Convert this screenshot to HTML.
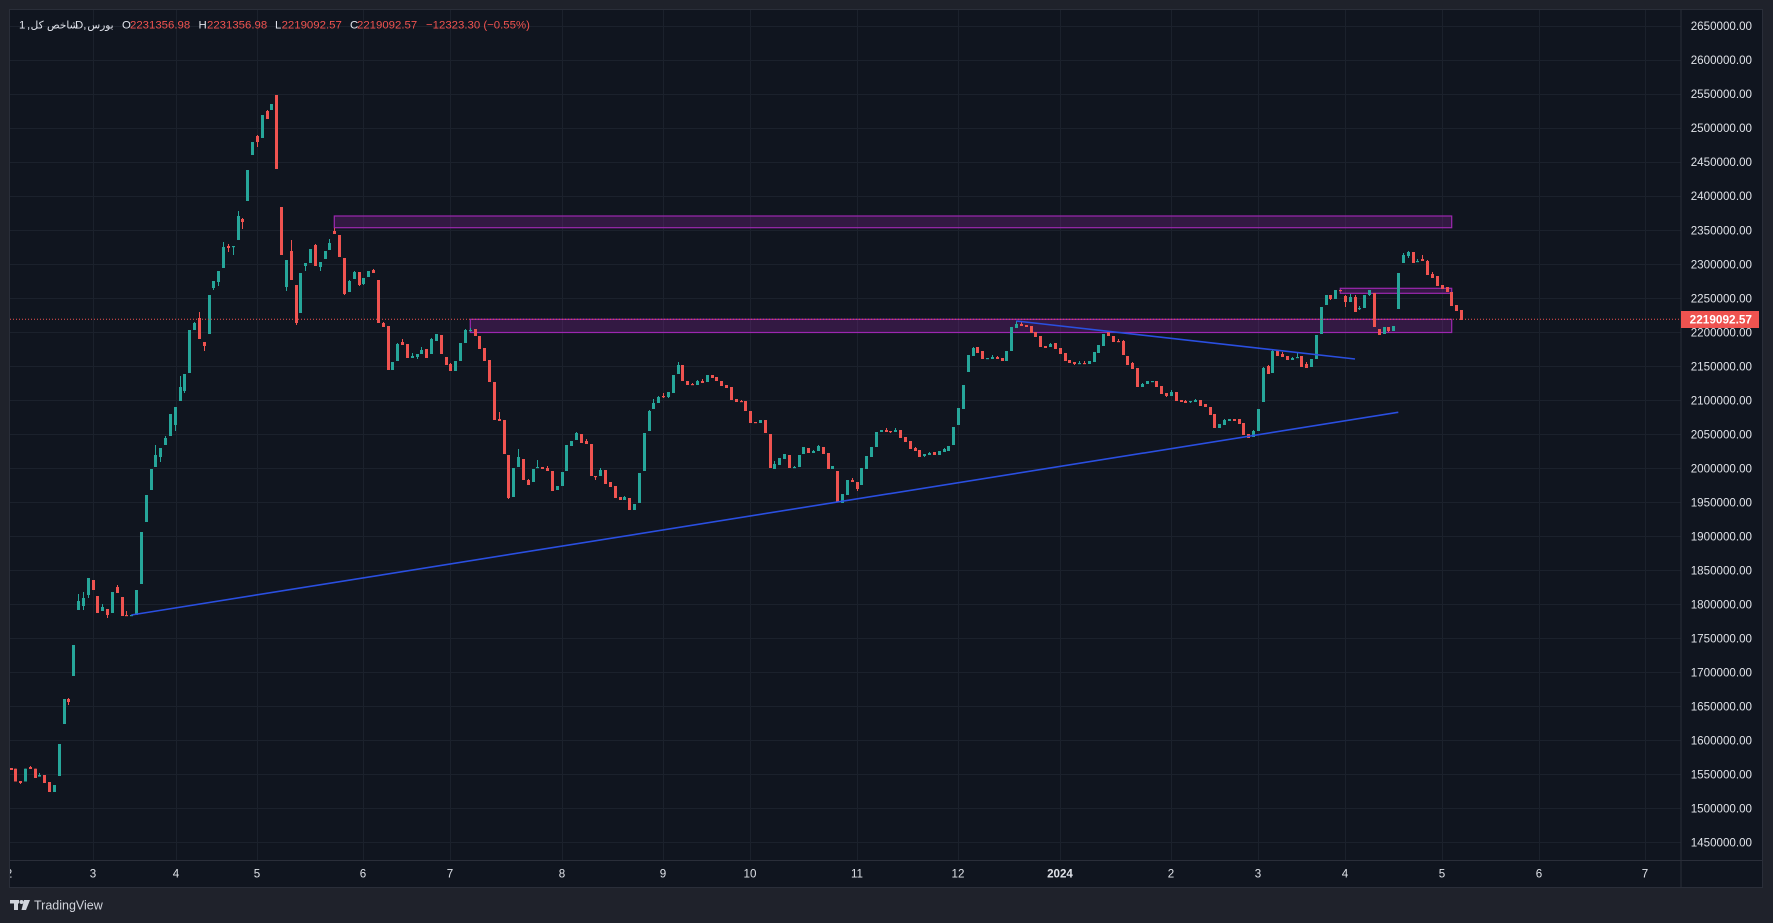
<!DOCTYPE html>
<html><head><meta charset="utf-8">
<style>
html,body{margin:0;padding:0;background:#1f222b;width:1773px;height:923px;overflow:hidden;}
svg{display:block;}
text{font-family:"Liberation Sans","DejaVu Sans",sans-serif;}
.ar{font-family:"DejaVu Sans","Liberation Sans",sans-serif;}
</style></head>
<body>
<svg id="s" width="1773" height="923" viewBox="0 0 1773 923" xmlns="http://www.w3.org/2000/svg">
<defs>
<clipPath id="pane"><rect x="10" y="10" width="1671" height="850"/></clipPath>
<clipPath id="taxis"><rect x="10" y="860" width="1671" height="27"/></clipPath>
</defs>
<rect x="0" y="0" width="1773" height="923" fill="#1f222b"/>
<rect x="10" y="10" width="1752" height="877" fill="#10151f"/>
<g id="grid" stroke="#1b212c" stroke-width="1"></g>
<g id="boxes" clip-path="url(#pane)">
<rect x="334.3" y="216" width="1117.4" height="11.7" fill="rgba(156,39,176,0.25)" stroke="#9c27b0" stroke-width="1.2"/>
<rect x="470.3" y="319.3" width="981.4" height="13.2" fill="rgba(156,39,176,0.25)" stroke="#9c27b0" stroke-width="1.2"/>
<rect x="1340.3" y="288.3" width="111.4" height="5" fill="rgba(156,39,176,0.25)" stroke="#9c27b0" stroke-width="1.2"/>
</g>
<g id="candles" clip-path="url(#pane)"></g>
<g clip-path="url(#pane)">
<line x1="131.3" y1="615" x2="1398.3" y2="412.3" stroke="#2a4fe0" stroke-width="1.6"/>
<line x1="1016.3" y1="321" x2="1355" y2="359" stroke="#2a4fe0" stroke-width="1.6"/>
<line x1="10" y1="319.3" x2="1681" y2="319.3" stroke="#ef5350" stroke-width="1" stroke-dasharray="1,2"/>
</g>
<!-- borders -->
<line x1="1681" y1="10" x2="1681" y2="887" stroke="#2a2e39" stroke-width="1"/>
<line x1="10" y1="860.5" x2="1762" y2="860.5" stroke="#2a2e39" stroke-width="1"/>
<rect x="9.5" y="9.5" width="1753" height="878" fill="none" stroke="#2a2e39" stroke-width="1"/>
<g id="ylab" font-size="11.6" fill="#dfe2e8" text-anchor="end"></g>
<rect x="1681" y="311" width="78" height="17" fill="#ef5350"/>
<text x="1752" y="323.6" font-size="11.8" fill="#ffffff" text-anchor="end" font-weight="bold">2219092.57</text>
<g id="xlab" font-size="11.6" fill="#dfe2e8" text-anchor="middle" clip-path="url(#taxis)"></g>
<!-- legend -->
<g font-size="11.4">
<text x="19" y="28.3" fill="#e0e3eb">1</text>
<text x="27" y="28.3" fill="#e0e3eb">,</text>
<text class="ar" x="54.5" y="28.3" fill="#e0e3eb" text-anchor="middle" font-size="10.5">شاخص کل</text>
<text x="75" y="28.3" fill="#e0e3eb">D,</text>
<text class="ar" x="100.5" y="28.3" fill="#e0e3eb" text-anchor="middle" font-size="10.5">بورس</text>
<text x="122" y="28.3" fill="#e0e3eb">O</text>
<text x="130" y="28.3" fill="#f05350">2231356.98</text>
<text x="198.5" y="28.3" fill="#e0e3eb">H</text>
<text x="207" y="28.3" fill="#f05350">2231356.98</text>
<text x="275" y="28.3" fill="#e0e3eb">L</text>
<text x="281.6" y="28.3" fill="#f05350">2219092.57</text>
<text x="350" y="28.3" fill="#e0e3eb">C</text>
<text x="357" y="28.3" fill="#f05350">2219092.57</text>
<text x="426" y="28.3" fill="#f05350">−12323.30 (−0.55%)</text>
</g>
<!-- TradingView logo -->
<g fill="#d1d4dc">
<rect x="10" y="900" width="9" height="3.5"/>
<rect x="14" y="900" width="4" height="10"/>
<circle cx="21.5" cy="902" r="2"/>
<polygon points="24,900 30,900 26,910 21.5,910"/>
<text x="34" y="909.5" font-size="12.5">TradingView</text>
</g>
</svg>
<script>
(function(){
var NS="http://www.w3.org/2000/svg";
function el(p,n,a,t){var e=document.createElementNS(NS,n);for(var k in a)e.setAttribute(k,a[k]);if(t!==undefined)e.textContent=t;p.appendChild(e);return e;}
var grid=document.getElementById('grid');
for(var k=0;k<=24;k++){var y=Math.round(26+k*34.01)+0.5;el(grid,'line',{x1:10,y1:y,x2:1681,y2:y});}
var vx=[93,176,257,363,450,562,663,750,857,958,1060,1171,1258,1345,1442,1539,1645];
vx.forEach(function(x){el(grid,'line',{x1:x+0.5,y1:10,x2:x+0.5,y2:860});});
var yl=document.getElementById('ylab');
for(var k=0;k<=24;k++){var p=2650000-k*50000;var y=26+k*34.01;el(yl,'text',{x:1752,y:(y+4.2).toFixed(1)},p+'.00');}
var xl=document.getElementById('xlab');
var xs=[[9,'2'],[93,'3'],[176,'4'],[257,'5'],[363,'6'],[450,'7'],[562,'8'],[663,'9'],[750,'10'],[857,'11'],[958,'12'],[1060,'2024'],[1171,'2'],[1258,'3'],[1345,'4'],[1442,'5'],[1539,'6'],[1645,'7']];
xs.forEach(function(a){var t=el(xl,'text',{x:a[0],y:877.3},a[1]);if(a[1]=='2024')t.setAttribute('font-weight','bold');});
var D=[
[10.7,768,770,0],[15.3,768.7,781.5,0],[20.3,781,783,0,,784],[25.3,768.7,781.5,1],[30.3,767,769,0,766],[35.3,768.7,778,0],[39.3,775,776.6,1,773],[44.3,775,783,0],[49.3,782,792,0],[54.3,785,792,1],
[59.3,744,776,1],[64.3,699,724,1],[68.3,699,702,0,698,705],[73.3,645,676,1],[78.3,601,610,1,594],[83.3,598,606,1,592,610],[88.3,578,595,1,,598],[93.3,580,590,0],[97.3,596,613,0],[102.3,607,611,1,604],
[107.3,609,615,0,,618],[112.3,592,613,1],[117.3,587,593,0,585],[122.3,597,616,0],[126.3,615,616,0,611],[131.3,615,616,1],[136.3,590,615,1],[141.3,532,584,1],[146.3,495,522,1],[151.3,469,490,1],
[155.3,455,467,1,445],[160.3,448,457,1,,462],[165.3,438,445,1,436],[170.3,414,436,1],[175.3,407,425,1,,431],[180.3,387,401,1,376],[184.3,374,391,1,,393],[189.3,330,373,1],[194.3,323,330,1,322],[199.3,318,339,0,312],
[204.3,342,346,0,,351],[209.3,295,334,1],[213.3,281,288,1,,290],[218.3,271,282,1,,286],[223.3,247,268,1,242],[228.3,246,248,0,244,252],[233.3,246,247,1,,255],[238.3,216,240,1,211],[242.3,219,222,0,218,229],[247.3,170,201,1],
[252.3,142,155,1],[257.3,136,142,0,135,147],[262.3,115,138,1],[267.3,111,119,0,110],[271.3,104,110,1],[276.3,95,169,0],
[281.3,207,255,0],[286.3,260,287,1,,291],[291.3,251,280,0,240],[296.3,285,323,0,,325],[300.3,273,313,1],[305.3,263,266,1,,271],[310.3,249,263,1],[315.3,245,266,0,244],[320.3,262,267,1,,271],[325.3,251,259,1],
[329.3,243,250,1,239],[334.3,231,234,0,228],[339.3,235,257,0],[344.3,258,294,0,,295],[349.3,281,292,1,280],[354.3,272,279,1,271],[359.3,272,285,0,,286],[363.3,278,284,1,,285],[368.3,271,277,1],[373.3,270,273,0,269],
[378.3,280,323,0],[383.3,323,327,0,322],[388.3,326,370,0],[392.3,362,370,1],[397.3,344,361,1,343],[402.3,342,345,0,339],[407.3,344,358,0],[412.3,356,358,1,353],[417.3,354,357,1,,359],[421.3,350,354,1,347],
[426.3,349,358,0],[431.3,339,354,1,338],[436.3,334,341,1],[441.3,335,354,0],[446.3,357,365,0],[450.3,364,371,0,363],[455.3,361,371,1],[460.3,343,361,1],[465.3,330,343,1,329],[470.3,330,331,1,328],
[475.3,329,336,0],[479.3,336,349,0],[484.3,348,361,0],[489.3,360,382,0],[494.3,382,420,0],[499.3,419,421,0,412],[504.3,420,454,0],[508.3,455,498,0,,499],[513.3,468,497,1],[518.3,457,467,1,449],
[523.3,459,480,0],[528.3,480,485,0,479],[533.3,469,482,1],[537.3,467,468,1,460],[542.3,467,469,0],[547.3,468,471,0,466],[552.3,471,491,0],[557.3,486,490,1],
[562.3,472,486,1],[566.3,445,471,1],[571.3,441,446,1],[576.3,433,440,1,432],[581.3,434,443,0],[586.3,441,444,0,439],[591.3,444,476,0],[595.3,476,477,0,,480],[600.3,470,476,1,468],[605.3,470,484,0],
[610.3,482,487,0],[615.3,486,498,0],[620.3,497,500,0],[624.3,497,500,1,496],[629.3,498,510,0],[634.3,504,510,1],[639.3,473,503,1],[644.3,433,471,1],[649.3,411,431,1,410],[653.3,403,409,1,399],
[658.3,397,403,1,396],[663.3,396,397,0,393,398],[668.3,392,397,1,,398],[673.3,375,393,1],[678.3,365,374,1,362],[682.3,365,381,0],[687.3,381,385,0],[692.3,384,385,0,383],[697.3,381,385,1,380],[702.3,381,383,0,379],
[707.3,375,382,1],[712.3,375,378,0],[716.3,377,381,0],[721.3,381,386,0],[726.3,385,388,0],[731.3,387,400,0],[736.3,399,402,0],[741.3,401,402,0,400],[745.3,401,411,0],[750.3,411,423,0],
[755.3,422,423,0],[760.3,420,423,1],[765.3,420,433,0],[770.3,434,468,0],[774.3,464,469,1,461],[779.3,458,465,1],[784.3,454,459,1],[789.3,455,468,0],[794.3,467,468,1,466],[799.3,455,467,1],
[803.3,447,454,1],[808.3,448,453,0],[813.3,451,453,1,450],[818.3,446,451,1,445],[823.3,447,454,0],[828.3,453,469,0],[832.3,466,469,1],[837.3,471,502,0],[842.3,494,503,1],[847.3,480,495,1],[852.3,480,482,0,478],
[857.3,482,489,0,,491],[861.3,468,485,1],[866.3,456,469,1],[871.3,447,457,1],[876.3,432,447,1],[881.3,430,432,1],[886.3,430,432,0,428],[890.3,431,432,0,,433],[895.3,430,432,1,428],[900.3,430,438,0],
[905.3,437,442,0],[910.3,441,449,0],[915.3,448,451,0,447],[919.3,450,457,0],[924.3,454,456,1,,457],[929.3,453,455,1,452],[934.3,452,455,0],[939.3,451,455,1],[944.3,449,452,1,448],[948.3,446,451,1],[953.3,427,445,1],
[958.3,408,425,1],[963.3,385,409,1],[968.3,355,372,1],[973.3,348,356,1,347],[977.3,347,353,0],[982.3,351,359,0],[987.3,358,359,1],[992.3,357,359,1,355],[997.3,357,359,0,356],[1002.3,358,361,0],
[1006.3,351,361,1],[1011.3,327,351,1],[1016.3,324,328,1,321],[1021.3,324,326,0,322],[1026.3,325,327,0],[1031.3,326,333,0],[1035.3,332,337,0],[1040.3,336,347,0],[1045.3,346,348,0],[1050.3,344,347,1,343],
[1055.3,343,349,0],[1060.3,348,354,0],[1065.3,353,361,0],[1069.3,360,363,0],[1074.3,362,364,0,,365],[1079.3,363,364,1,361],[1084.3,363,364,0,361],[1089.3,361,364,1],[1094.3,352,362,1],[1098.3,345,353,1],
[1103.3,334,346,1],[1108.3,332,336,0],[1113.3,336,342,0],[1118.3,341,342,0,339],[1123.3,341,355,0,340],[1127.3,356,365,0],[1132.3,363,369,0,362],[1137.3,368,387,0],[1142.3,384,387,1,383],[1147.3,381,384,1],[1152.3,381,382,1],
[1156.3,381,387,0],[1161.3,386,394,0],[1166.3,393,396,0,,397],[1171.3,392,396,1,390],[1176.3,392,401,0],[1181.3,400,402,0],[1185.3,401,403,0,400],[1190.3,401,402,1,,403],[1195.3,400,402,1,399],[1200.3,400,406,0],
[1205.3,404,407,0],[1210.3,407,415,0],[1214.3,414,428,0],[1219.3,424,428,1],[1224.3,420,425,1,419],[1229.3,419,421,1],[1234.3,419,421,0],[1239.3,419,424,0],[1243.3,423,435,0],[1248.3,434,438,0],
[1253.3,431,437,1,430],[1258.3,409,431,1],[1263.3,368,402,1,367],[1268.3,366,374,0,365],[1272.3,351,373,1,350],[1277.3,350,356,0],[1282.3,354,357,0,352],[1287.3,356,360,0],[1292.3,358,360,1,357],[1297.3,357,358,1,353],
[1301.3,356,367,0],[1306.3,364,368,0,362],[1311.3,359,367,1],[1316.3,335,359,1],[1321.3,307,334,1],[1326.3,295,305,1],[1330.3,295,299,0,,300],[1335.3,290,299,1],[1340.3,290,291,0],[1345.3,296,302,0,295,307],
[1350.3,297,302,1,294],[1355.3,297,312,0,295],[1359.3,308,309,1,306,310],[1364.3,295,308,1],[1369.3,290,295,1,,296],[1374.3,293,327,0],[1379.3,329,335,0],[1384.3,327,334,1],[1388.3,327,331,0,,332],[1393.3,326,331,1],
[1398.3,273,309,1],[1403.3,255,263,1,253],[1408.3,252,256,1,251,258],[1413.3,252,263,0],[1417.3,261,262,1,259],[1422.3,259,261,0,255],[1427.3,261,275,0,260],[1432.3,274,278,0,272],[1437.3,276,286,0],[1442.3,285,289,0],
[1447.3,287,292,0],[1451.3,292,306,0],[1456.3,305,311,0],[1461.3,310,320,0]
];
var g=document.getElementById('candles');
D.forEach(function(d){
 var x=Math.round(d[0]);var t=d[1],b=d[2];var c=d[3]?'#26a69a':'#ef5350';
 var wt=(d[4]!==undefined)?d[4]:t; var wb=(d[5]!==undefined)?d[5]:b;
 if(wt>t)wt=t; if(wb<b)wb=b;
 if(wb-wt>0.5) el(g,'rect',{x:x,y:wt,width:1,height:(wb-wt),fill:c});
 var h=Math.max(1.2,b-t);
 el(g,'rect',{x:x-1,y:t,width:3,height:h,fill:c});
});
})();
</script>
</body></html>
